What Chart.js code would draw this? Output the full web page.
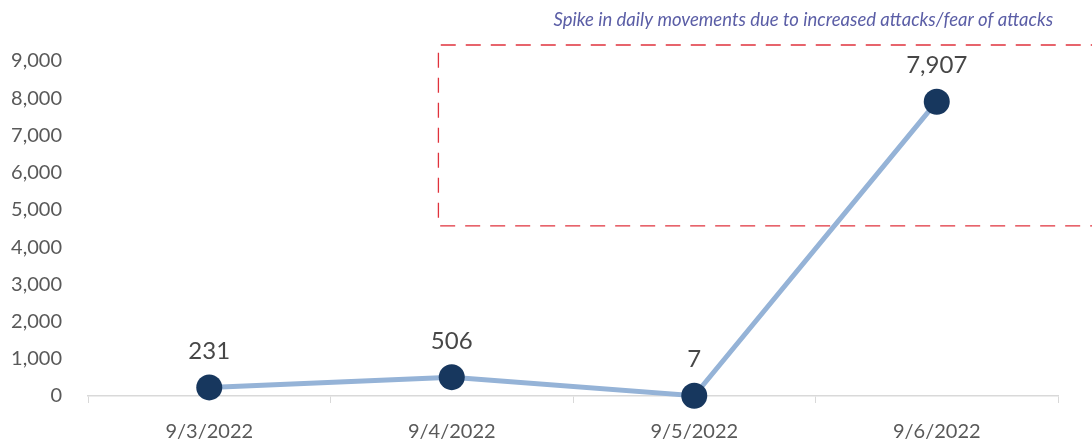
<!DOCTYPE html>
<html>
<head>
<meta charset="utf-8">
<script src="https://cdn.jsdelivr.net/npm/chart.js@4/dist/chart.umd.min.js"></script>
<style>
  html, body { margin: 0; padding: 0; background: #fff; }
  #wrap { width: 1092px; height: 442px; }
</style>
</head>
<body>
<div id="wrap"><canvas id="myChart"></canvas></div>
<script>
var fechas = ['9/3/2022', '9/4/2022', '9/5/2022', '9/6/2022'];
var movimientos = [231, 506, 7, 7907];
var ticksY = [0, 1000, 2000, 3000, 4000, 5000, 6000, 7000, 8000, 9000];

// caja de la nota (en unidades de los ejes)
var cajaX = [0.945, 3.8];
var cajaY = [4570, 9430];
var notaTexto = 'Spike in daily movements due to increased attacks/fear of attacks';
var notaPos = [3.48, 10110];

var fuente = 'Lato, "Open Sans", sans-serif';

function formato(v){
    return v.toLocaleString('en-US');
}

var etiquetasPlugin = {
    id: 'etiquetas',
    afterDatasetsDraw: function(chart){
        var ctx = chart.ctx;
        var meta = chart.getDatasetMeta(0);
        ctx.save();
        ctx.font = '24px ' + fuente;
        ctx.fillStyle = '#474747';
        ctx.textAlign = 'center';
        ctx.textBaseline = 'middle';
        meta.data.forEach(function(p, i){
            ctx.fillText(formato(movimientos[i]), p.x, p.y - 36);
        });
        ctx.restore();
    }
};

var notaPlugin = {
    id: 'nota',
    afterDraw: function(chart){
        var ctx = chart.ctx;
        var x = chart.scales.x, y = chart.scales.y;
        var x1 = x.getPixelForValue(cajaX[0]);
        var x2 = x.getPixelForValue(cajaX[1]);
        var y1 = y.getPixelForValue(cajaY[1]);
        var y2 = y.getPixelForValue(cajaY[0]);
        ctx.save();
        ctx.strokeStyle = '#e0323c';
        ctx.lineWidth = 1.3;
        ctx.setLineDash([15, 10]);
        ctx.beginPath();
        ctx.moveTo(x2, y1);
        ctx.lineTo(x1, y1);
        ctx.lineTo(x1, y2);
        ctx.lineTo(x2, y2);
        ctx.stroke();
        ctx.setLineDash([]);
        ctx.font = 'italic 18.5px ' + fuente;
        ctx.fillStyle = '#5b5ea6';
        ctx.textAlign = 'right';
        ctx.textBaseline = 'middle';
        ctx.fillText(notaTexto, x.getPixelForValue(notaPos[0]), y.getPixelForValue(notaPos[1]));
        ctx.restore();
    }
};

var ctx = document.getElementById('myChart');
var chart = new Chart(ctx, {
    type: 'line',
    data: {
        labels: fechas,
        datasets: [{
            data: movimientos,
            borderColor: '#95b3d7',
            borderWidth: 5,
            pointRadius: 13,
            pointHoverRadius: 13,
            pointBackgroundColor: '#17375e',
            pointBorderColor: '#17375e',
            pointBorderWidth: 0,
            tension: 0,
            clip: false
        }]
    },
    options: {
        responsive: true,
        maintainAspectRatio: false,
        animation: false,
        layout: { padding: { top: 61, right: 34, left: 0, bottom: 0 } },
        plugins: {
            legend: { display: false },
            tooltip: { enabled: false }
        },
        scales: {
            x: {
                offset: true,
                afterFit: function(axis){
                    axis.height = 46;
                },
                grid: {
                    offset: true,
                    drawOnChartArea: false,
                    drawTicks: true,
                    tickLength: 7,
                    color: '#d9d9d9'
                },
                border: { color: '#d9d9d9', width: 1.5 },
                ticks: {
                    font: { family: fuente, size: 20 },
                    color: '#595959',
                    padding: 17
                }
            },
            y: {
                min: 0,
                max: 9000,
                afterBuildTicks: function(axis){
                    axis.ticks = ticksY.map(function(v){ return { value: v }; });
                },
                afterFit: function(axis){
                    axis.width = 88;
                },
                grid: { display: false, drawTicks: false },
                border: { display: false },
                ticks: {
                    font: { family: fuente, size: 20 },
                    color: '#595959',
                    padding: 26,
                    callback: function(v){ return formato(v); }
                }
            }
        }
    },
    plugins: [etiquetasPlugin, notaPlugin]
});
</script>
</body>
</html>
